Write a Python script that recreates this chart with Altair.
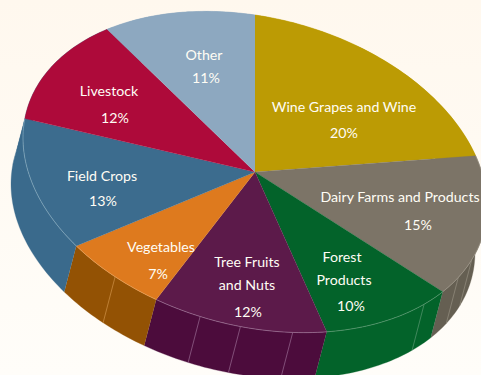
import math
import altair as alt
import pandas as pd

# Share of the total for each sector, clockwise from twelve o'clock
categories = ["Wine Grapes and Wine", "Dairy Farms and Products", "Forest Products",
              "Tree Fruits and Nuts", "Vegetables", "Field Crops", "Livestock", "Other"]
shares = [20, 15, 10, 12, 7, 13, 12, 11]
top_colors = ["#BC9B04", "#7C7467", "#03632A", "#5C1A4A", "#DE7A1E", "#3C6C8E", "#AE0A3A", "#8DA8C0"]
side_colors = ["#BC9B04", "#655F52", "#03632A", "#4C0C3C", "#935204", "#3A6A8C", "#3A6A8C", "#8DA8C0"]
rim_colors = ["#BC9B04", "#A8A294", "#7FB08F", "#B58FB0", "#F2B070", "#9DC0D0", "#AE0A3A", "#8DA8C0"]

# Panel dividers on the rim of the disc, as cumulative percentages
rib_positions = [30.8, 33.0, 37.0, 47.4, 51.0, 53.8, 60.3]
rib_colors = ["#8F897B", "#8F897B", "#4F9068", "#8F5F88", "#8F5F88", "#8F5F88", "#C88A40"]

# Label lines: text, centre x, centre y
label_texts = ["Wine Grapes and Wine", "20%", "Dairy Farms and Products", "15%", "Forest", "Products", "10%",
               "Tree Fruits", "and Nuts", "12%", "Vegetables", "7%", "Field Crops", "13%",
               "Livestock", "12%", "Other", "11%"]
label_x = [344, 344, 400, 418, 342, 344, 351, 247, 247, 248, 161, 158, 102, 103, 109, 115, 204, 206]
label_y = [107, 133, 197, 225, 257, 280, 306, 262, 285, 312, 247, 274, 176, 201, 91, 118, 55, 78]

# Oblique view of the disc: centre, the two axis vectors, and the extrusion
CX, CY = 255, 172
AX, AY = 232, 34
BX, BY = 0, -157
DX, DY = -12, 46
W, H = 481, 375


def rim_point(pct, dx=0, dy=0):
    t = 2 * math.pi * pct / 100
    return (CX + AX * math.sin(t) + BX * math.cos(t) + dx,
            CY + AY * math.sin(t) + BY * math.cos(t) + dy)


wedges, walls, rims = [], [], []
start = 0
for name, share in zip(categories, shares):
    n = max(2, share * 3)
    arc = [start + share * i / n for i in range(n + 1)]
    outline = [(CX, CY)] + [rim_point(p) for p in arc]
    wedges += [{"name": name, "step": i, "x": x, "y": y} for i, (x, y) in enumerate(outline)]
    band = [rim_point(p) for p in arc] + [rim_point(p, DX, DY) for p in reversed(arc)]
    walls += [{"name": name, "step": i, "x": x, "y": y} for i, (x, y) in enumerate(band)]
    rims += [{"name": name, "step": i, "x": rim_point(p)[0], "y": rim_point(p)[1]} for i, p in enumerate(arc)]
    start += share

ribs = []
for rib, (pos, col) in enumerate(zip(rib_positions, rib_colors)):
    for step, (dx, dy) in enumerate([(0, 0), (DX, DY)]):
        x, y = rim_point(pos, dx, dy)
        ribs.append({"rib": str(rib), "color": col, "step": step, "x": x, "y": y})

labels = pd.DataFrame({"text": label_texts, "x": label_x, "y": label_y})

x_enc = alt.X("x:Q", scale=alt.Scale(domain=[0, W], nice=False, zero=False), axis=None)
y_enc = alt.Y("y:Q", scale=alt.Scale(domain=[H, 0], nice=False, zero=False), axis=None)

backdrop = alt.Chart(pd.DataFrame({"a": [0]})).mark_rect(
    color=alt.Gradient(gradient="linear", x1=0, y1=0, x2=0, y2=1,
                       stops=[alt.GradientStop(color="#FFF8EE", offset=0),
                              alt.GradientStop(color="#FFFDF9", offset=1)])
).encode(x=alt.value(0), x2=alt.value(W), y=alt.value(0), y2=alt.value(H))


def filled(rows, colors):
    return alt.Chart(pd.DataFrame(rows)).mark_line(strokeWidth=0.3, clip=True, interpolate="linear").encode(
        x=x_enc, y=y_enc,
        fill=alt.Fill("name:N", scale=alt.Scale(domain=categories, range=colors), legend=None),
        stroke=alt.Stroke("name:N", scale=alt.Scale(domain=categories, range=colors), legend=None),
        order=alt.Order("step:Q"),
    )


rim_layer = alt.Chart(pd.DataFrame(rims)).transform_filter(
    alt.FieldOneOfPredicate(field="name", oneOf=categories[1:6])
).mark_line(strokeWidth=0.7, opacity=0.75, clip=True).encode(
    x=x_enc, y=y_enc,
    stroke=alt.Stroke("name:N", scale=alt.Scale(domain=categories, range=rim_colors), legend=None),
    order=alt.Order("step:Q"),
)

rib_layer = alt.Chart(pd.DataFrame(ribs)).mark_line(strokeWidth=0.8, clip=True).encode(
    x=x_enc, y=y_enc,
    detail="rib:N",
    stroke=alt.Stroke("color:N", scale=None),
    order=alt.Order("step:Q"),
)

text_layer = alt.Chart(labels).mark_text(
    color="#FFFDF5", font="Lato", fontSize=14.2, align="center", baseline="middle", dy=1
).encode(x=x_enc, y=y_enc, text="text:N")

chart = alt.layer(
    backdrop, filled(walls, side_colors), rib_layer, filled(wedges, top_colors), rim_layer, text_layer
).resolve_scale(fill="independent", stroke="independent").properties(
    width=W, height=H, padding=0, autosize=alt.AutoSizeParams(type="none")
).configure_view(stroke=None)

chart.save("out.html", embed_options={"renderer": "svg", "actions": False})
